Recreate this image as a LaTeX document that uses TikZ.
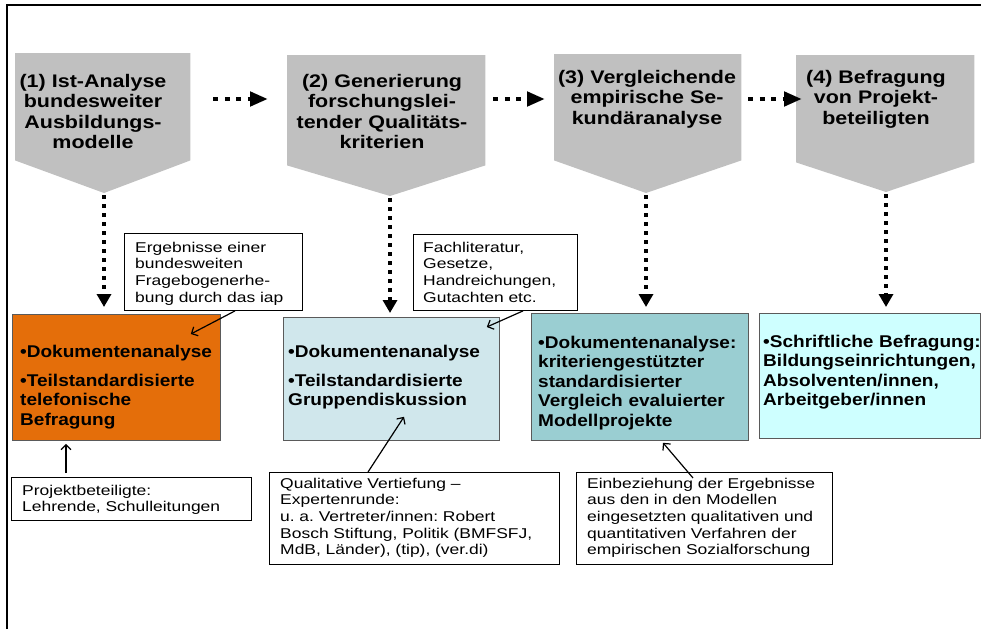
\documentclass[tikz,border=0pt]{standalone}
\usepackage{fontspec}
\setmainfont{Liberation Sans}
\newfontfamily\stagefont{Liberation Sans}[FakeStretch=1.18]
\newfontfamily\resultfont{Liberation Sans}[FakeStretch=1.12]
\newfontfamily\notefont{Liberation Sans}[FakeStretch=1.23]
\usetikzlibrary{arrows.meta,calc,positioning}
\frenchspacing
\definecolor{stagegray}{RGB}{192,192,192}
\definecolor{resorange}{RGB}{228,110,10}
\definecolor{resblue}{RGB}{208,231,236}
\definecolor{resteal}{RGB}{154,206,210}
\definecolor{rescyan}{RGB}{206,255,255}
\definecolor{resline}{RGB}{90,90,90}
\tikzstyle{stage}=[inner sep=0pt, anchor=north west]
\tikzstyle{stagetext}=[font={\stagefont\bfseries\fontsize{18.2pt}{20.5pt}\selectfont}, align=center, text width=200pt, inner sep=0pt, anchor=base]
\tikzstyle{resultbox}=[draw=resline, line width=0.8pt, inner sep=0pt, anchor=north west]
\tikzstyle{resulttext}=[font={\resultfont\bfseries\fontsize{17pt}{19.5pt}\selectfont}, align=left, text width=260pt, inner sep=0pt, anchor=base west]
\tikzstyle{notebox}=[draw, line width=0.9pt, fill=white, inner sep=0pt, anchor=north west]
\tikzstyle{notetext}=[font={\notefont\fontsize{14.2pt}{16.7pt}\selectfont}, align=left, text width=300pt, inner sep=0pt, anchor=base west]
\tikzstyle{dotdown}=[line width=4pt, dash pattern=on 3.5pt off 5.5pt, -{Triangle[length=13pt,width=14pt]}]
\tikzstyle{dotright}=[line width=4.5pt, dash pattern=on 5pt off 6.5pt, -{Triangle[length=18pt,width=14pt]}]
\tikzstyle{notearrow}=[line width=1.2pt, -{Straight Barb[length=5pt,width=10pt]}]

\begin{document}
\begin{tikzpicture}[x=1pt, y=-1pt]
	\useasboundingbox (0,0) rectangle (981,629);
	\draw[line width=2pt] (7,629) -- (7,5) -- (981,5);
	% stages
	\node[stage, minimum width=175pt, minimum height=107pt] (s1) at (15,53) {};
	\node[stage, minimum width=198pt, minimum height=110pt] (s2) at (287,55) {};
	\node[stage, minimum width=187pt, minimum height=106pt] (s3) at (554,54) {};
	\node[stage, minimum width=178pt, minimum height=107pt] (s4) at (796,55) {};
	\coordinate (s1tip) at (104,193);
	\coordinate (s2tip) at (390,196);
	\coordinate (s3tip) at (646,193);
	\coordinate (s4tip) at (886,192);
	\foreach \s in {s1,s2,s3,s4}
		\fill[stagegray] (\s.north west) -- (\s.north east) -- (\s.south east) -- (\s tip) -- (\s.south west) -- cycle;
	\node[stagetext] (s1text) at (93,87) {(1) Ist-Analyse\\bundesweiter\\Ausbildungs-\\modelle};
	\node[stagetext] (s2text) at (382,87) {(2) Generierung\\forschungslei-\\tender Qualitäts-\\kriterien};
	\node[stagetext] (s3text) at (647,83) {(3) Vergleichende\\empirische Se-\\kundäranalyse};
	\node[stagetext] (s4text) at (876,83) {(4) Befragung\\von Projekt-\\beteiligten};
	% flow between stages
	\draw[dotright] ($(s1.north east)+(23,46)$) -- ($(s2.north west)+(-19,44)$);
	\draw[dotright] ($(s2.north east)+(8,44)$) -- ($(s3.north west)+(-9,45)$);
	\draw[dotright] ($(s3.north east)+(7,45)$) -- ($(s4.north west)+(6,44)$);
	% results
	\node[resultbox, fill=resorange, minimum width=208pt, minimum height=126pt] (boxA) at (12,314) {};
	\node[resultbox, fill=resblue, minimum width=216pt, minimum height=123pt] (boxB) at (283,317) {};
	\node[resultbox, fill=resteal, minimum width=217pt, minimum height=127pt] (boxC) at (531,313) {};
	\node[resultbox, fill=rescyan, minimum width=221pt, minimum height=125pt] (boxD) at (759,313) {};
	\draw[dotdown] ($(s1tip)+(0,2)$) -- ($(s1tip |- boxA.north)+(0,-7)$);
	\draw[dotdown] ($(s2tip)+(0,2)$) -- ($(s2tip |- boxB.north)+(0,-4)$);
	\draw[dotdown] ($(s3tip)+(0,2)$) -- ($(s3tip |- boxC.north)+(0,-6)$);
	\draw[dotdown] ($(s4tip)+(0,2)$) -- ($(s4tip |- boxD.north)+(0,-6)$);
	\node[resulttext] (boxAtext) at (20,357) {•Dokumentenanalyse\\[9.5pt]•Teilstandardisierte\\telefonische\\Befragung};
	\node[resulttext] (boxBtext) at (288,357) {•Dokumentenanalyse\\[9.5pt]•Teilstandardisierte\\Gruppendiskussion};
	\node[resulttext] (boxCtext) at (538,348) {•Dokumentenanalyse:\\kriteriengestützter\\standardisierter\\Vergleich evaluierter\\Modellprojekte};
	\node[resulttext] (boxDtext) at (763,347) {•Schriftliche Befragung:\\Bildungseinrichtungen,\\Absolventen/innen,\\Arbeitgeber/innen};
	% notes
	\node[notebox, minimum width=178pt, minimum height=77pt] (cErg) at (124,233) {};
	\node[notebox, minimum width=164pt, minimum height=76pt] (cFach) at (413,234) {};
	\node[notebox, minimum width=240pt, minimum height=43pt] (cProj) at (11,477) {};
	\node[notebox, minimum width=290pt, minimum height=92pt] (cQual) at (269,472) {};
	\node[notebox, minimum width=256pt, minimum height=92pt] (cEinb) at (576,472) {};
	\draw[notearrow] ([xshift=111pt]cErg.south west) -- ([xshift=-30pt,yshift=-20pt]boxA.north east);
	\draw[notearrow] ([xshift=110pt]cFach.south west) -- ([xshift=-13pt,yshift=-10pt]boxB.north east);
	\draw[notearrow] ([xshift=55pt,yshift=4pt]cProj.north west) -- ([xshift=54pt,yshift=-3pt]boxA.south west);
	\draw[notearrow] ([xshift=99pt]cQual.north west) -- ([xshift=121pt,yshift=24pt]boxB.south west);
	\draw[notearrow] ([xshift=117pt,yshift=-6pt]cEinb.north west) -- ([xshift=132pt,yshift=-2pt]boxC.south west);
	\node[notetext] (cErgtext) at (135,252) {Ergebnisse einer\\bundesweiten\\Fragebogenerhe-\\bung durch das iap};
	\node[notetext] (cFachtext) at (423,252) {Fachliteratur,\\Gesetze,\\Handreichungen,\\Gutachten etc.};
	\node[notetext] (cProjtext) at (22,495) {Projektbeteiligte:\\Lehrende, Schulleitungen};
	\node[notetext] (cQualtext) at (280,488) {Qualitative Vertiefung –\\Expertenrunde:\\u. a. Vertreter/innen: Robert\\Bosch Stiftung, Politik (BMFSFJ,\\MdB, Länder), (tip), (ver.di)};
	\node[notetext] (cEinbtext) at (587,488) {Einbeziehung der Ergebnisse\\aus den in den Modellen\\eingesetzten qualitativen und\\quantitativen Verfahren der\\empirischen Sozialforschung};
\end{tikzpicture}
\end{document}
